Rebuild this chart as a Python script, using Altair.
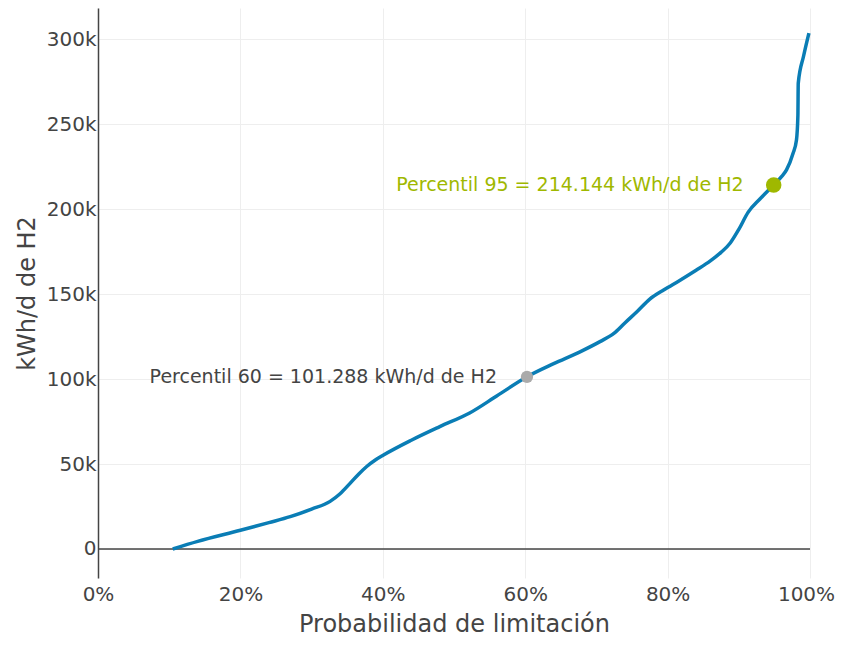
import altair as alt
import pandas as pd

# Curve data (probability %, kWh/d de H2)
prob = [10.5, 14.0, 20.0, 24.0, 27.0, 30.0, 32.6, 34.0, 35.4, 36.6, 37.7, 39.0, 40.1, 44.0, 48.0, 52.2, 56.0, 60.25,
        64.0, 67.7, 70.5, 72.5, 74.0, 75.8, 77.5, 79.5, 81.7, 84.0, 86.0, 87.5, 88.8, 90.0, 91.3, 93.0, 94.9,
        96.0, 96.7, 97.6, 98.1, 98.3, 98.35, 99.1, 99.85]
kwh = [0, 4500, 11000, 15500, 19000, 23500, 28000, 32500, 38600, 44000, 48400, 52500, 55300, 64000, 72000, 80000, 90000, 101300,
       109000, 116000, 122000, 127000, 133000, 140000, 147000, 152500, 158000, 164000, 169500, 174500, 180000, 188000, 198000, 206000, 214144,
       219000, 223000, 232500, 240600, 255000, 274000, 290000, 303500]

# Highlighted percentiles
pct_x = [60.25, 94.9]
pct_y = [101288, 214144]
pct_label = ["Percentil 60 = 101.288 kWh/d de H2", "Percentil 95 = 214.144 kWh/d de H2"]
pct_color = ["#aaaaaa", "#9fb800"]
pct_text_color = ["#444444", "#9fb800"]
pct_size = [150, 240]

x_ticks = [0, 20, 40, 60, 80, 100]
y_ticks = [0, 50000, 100000, 150000, 200000, 250000, 300000]

FONT = "DejaVu Sans"

curve = pd.DataFrame({"p": prob, "v": kwh})
pts = pd.DataFrame({"p": pct_x, "v": pct_y, "label": pct_label, "c": pct_color,
                    "tc": pct_text_color, "s": pct_size})

xs = alt.Scale(domain=[0, 100], nice=False, zero=False)
ys = alt.Scale(domain=[-17060, 318240], nice=False, zero=False)

x_enc = alt.X("p:Q", scale=xs, title="Probabilidad de limitación",
              axis=alt.Axis(values=x_ticks, labelExpr="datum.value + '%'", domain=False, ticks=False,
                            grid=True, gridColor="#eeeeee", labelPadding=6, labelFontSize=20,
                            labelOffset={"condition": {"test": "datum.value == 100", "value": -4}, "value": 0},
                            labelFlush=False, labelColor="#444444", titleFontSize=24, titleColor="#444444",
                            titleFontWeight="normal", titlePadding=8, labelFont=FONT, titleFont=FONT))
y_enc = alt.Y("v:Q", scale=ys, title="kWh/d de H2",
              axis=alt.Axis(values=y_ticks, labelExpr="datum.value == 0 ? '0' : format(datum.value, '~s')",
                            domain=True, domainColor="#444444", domainWidth=1.5,
                            ticks=False, grid=True, gridColor="#eeeeee", labelPadding=2, labelFontSize=20,
                            labelColor="#444444", titleFontSize=24, titleColor="#444444",
                            titleFontWeight="normal", titlePadding=7, labelFont=FONT, titleFont=FONT))

zero = alt.Chart(pd.DataFrame({"v": [0]})).mark_rule(color="#444444", strokeWidth=1.5).encode(
    y=alt.Y("v:Q", scale=ys))

line = alt.Chart(curve).mark_line(color="#0a7db5", strokeWidth=3.5, interpolate="monotone").encode(
    x=x_enc, y=y_enc)

points = alt.Chart(pts).mark_circle(opacity=1).encode(
    x=alt.X("p:Q", scale=xs), y=alt.Y("v:Q", scale=ys),
    color=alt.Color("c:N", scale=None), size=alt.Size("s:Q", scale=None))

labels = alt.Chart(pts).mark_text(align="right", baseline="middle", dx=-30, fontSize=19, font=FONT).encode(
    x=alt.X("p:Q", scale=xs), y=alt.Y("v:Q", scale=ys), text="label:N",
    color=alt.Color("tc:N", scale=None))

chart = alt.layer(zero, line, points, labels).properties(
    width=712, height=570,
    autosize=alt.AutoSizeParams(type="none"),
    padding={"left": 90, "top": 0, "right": 25, "bottom": 59},
).configure_view(stroke=None)

chart.save("out.html", embed_options={"renderer": "svg", "actions": False})
